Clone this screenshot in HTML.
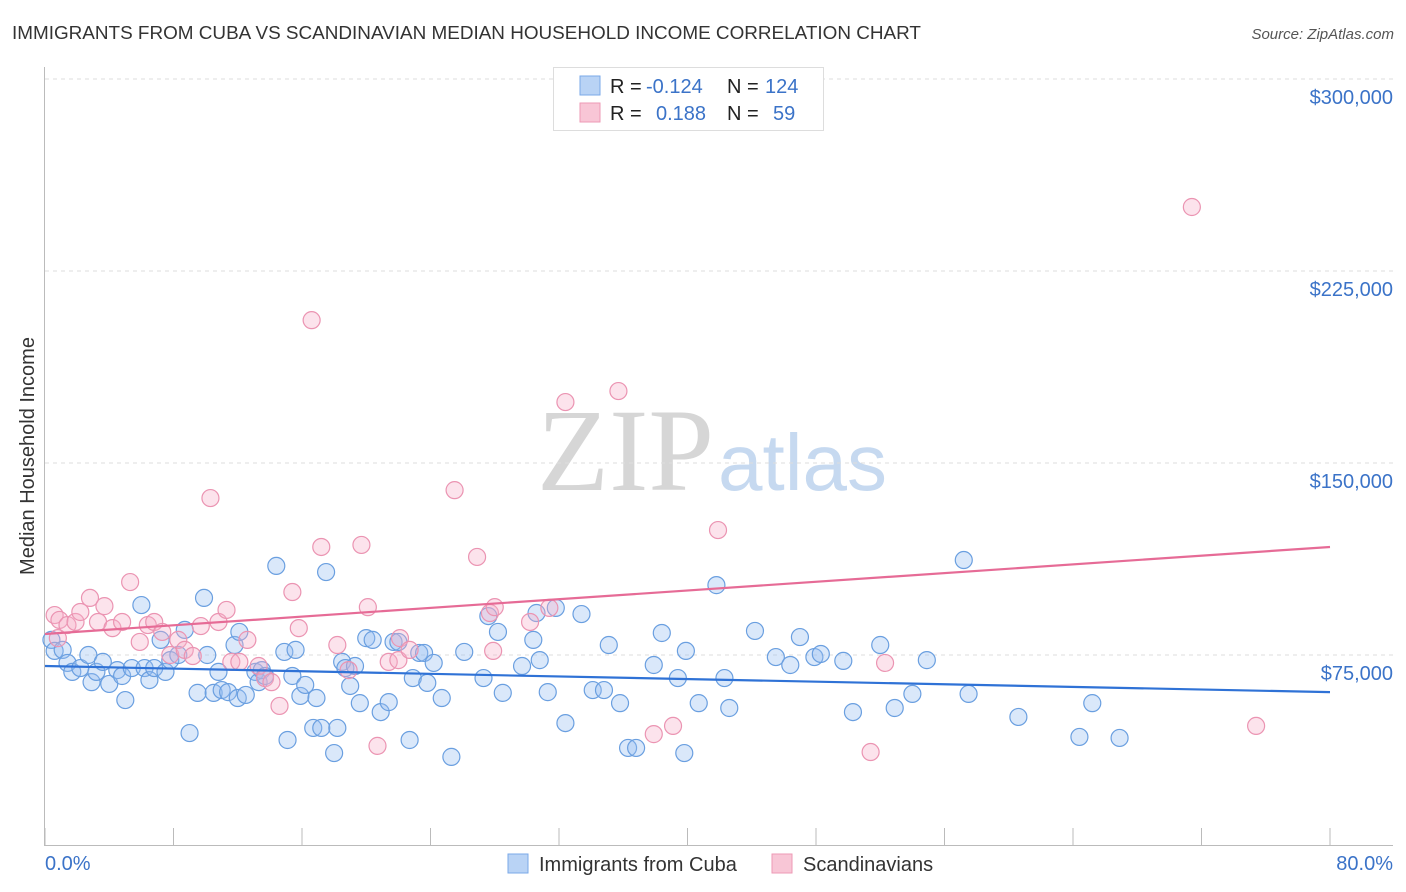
<!DOCTYPE html>
<html><head><meta charset="utf-8"><style>
body{margin:0;background:#fff;font-family:"Liberation Sans",sans-serif;}
svg{display:block}
</style></head><body>
<svg id="c" width="1406" height="892" xmlns="http://www.w3.org/2000/svg">
<text x="12" y="39" font-size="18.9" fill="#333">IMMIGRANTS FROM CUBA VS SCANDINAVIAN MEDIAN HOUSEHOLD INCOME CORRELATION CHART</text>
<text x="1394" y="39" font-size="15" fill="#555" font-style="italic" text-anchor="end">Source: ZipAtlas.com</text>
<text x="714" y="490" font-size="118" fill="#d6d6d6" font-family="Liberation Serif,serif" text-anchor="end">ZIP</text>
<text x="718" y="490" font-size="80" fill="#c6d9f0">atlas</text>
<g id="grid"></g>
<text transform="translate(34,456) rotate(-90)" font-size="20" fill="#333" text-anchor="middle">Median Household Income</text>
<text x="45" y="870" font-size="20" fill="#3b73c8">0.0%</text>
<text x="1393" y="870" font-size="20" fill="#3b73c8" text-anchor="end">80.0%</text>
<g id="pts"></g>
<g id="lines"></g>
<g>
<rect x="553.5" y="67.5" width="270" height="63" fill="#fff" stroke="#ddd"/>
<rect x="580" y="76" width="20" height="19" fill="#b9d3f5" stroke="#7aa8e8"/>
<rect x="580" y="103" width="20" height="19" fill="#f8c6d6" stroke="#ee9ab5"/>
<text x="610" y="93" font-size="20" fill="#222">R = <tspan x="646" fill="#3b73c8">-0.124</tspan><tspan x="727">N = </tspan><tspan x="765" fill="#3b73c8">124</tspan></text>
<text x="610" y="120" font-size="20" fill="#222">R = <tspan x="656" fill="#3b73c8">0.188</tspan><tspan x="727">N = </tspan><tspan x="773" fill="#3b73c8">59</tspan></text>
</g>
<g>
<rect x="508" y="854" width="20" height="19" fill="#b9d3f5" stroke="#7aa8e8"/>
<text x="539" y="871" font-size="20" fill="#333">Immigrants from Cuba</text>
<rect x="772" y="854" width="20" height="19" fill="#f8c6d6" stroke="#ee9ab5"/>
<text x="803" y="871" font-size="20" fill="#333">Scandinavians</text>
</g>
</svg>
<script>
const yTicks=[75000,150000,225000,300000];
const yTickLabels=["$75,000","$150,000","$225,000","$300,000"];
const xTicks=[0,8,16,24,32,40,48,56,64,72,80];
const cubaX=[0.4,0.6,1.1,1.4,1.7,2.2,2.7,2.9,3.2,3.6,4.0,4.5,4.8,5.0,5.4,6.0,6.2,6.5,6.8,7.2,7.5,7.8,8.3,8.7,9.0,9.5,9.9,10.1,10.5,10.8,11.0,11.4,11.8,12.0,12.1,12.5,13.1,13.3,13.5,13.7,14.4,14.9,15.1,15.4,15.6,15.9,16.2,16.7,16.9,17.2,17.5,18.0,18.2,18.5,18.7,19.0,19.3,19.6,20.0,20.4,20.9,21.4,21.7,22.0,22.7,22.9,23.3,23.6,23.8,24.2,24.7,25.3,26.1,27.3,27.6,28.2,28.5,29.7,30.4,30.6,30.8,31.3,31.8,32.4,33.4,34.1,34.8,35.1,35.8,36.3,36.8,37.9,38.4,39.4,39.8,39.9,40.7,41.8,42.3,42.6,44.2,45.5,46.4,47.0,47.9,48.3,49.7,50.3,52.0,52.9,54.0,54.9,57.2,57.5,60.6,64.4,65.2,66.9];
const cubaY=[80.9,76.6,77.0,71.9,68.4,69.9,75.0,64.4,68.4,72.3,63.7,69.1,66.8,57.4,69.9,94.5,69.9,65.2,69.9,80.9,68.4,73.0,75.0,84.8,44.5,60.2,97.3,75.0,60.2,68.4,61.3,60.5,78.9,58.2,84.0,59.4,68.4,64.4,69.1,66.8,109.8,76.2,41.8,66.8,77.0,59.0,63.3,46.5,58.2,46.5,107.4,36.7,46.5,72.3,69.9,62.9,70.7,56.2,81.6,80.9,52.7,56.6,80.1,80.1,41.8,66.0,75.8,75.8,64.1,71.9,58.2,35.2,76.2,66.0,90.2,84.0,60.2,70.7,80.9,91.4,73.0,60.5,93.4,48.4,91.0,61.3,61.3,78.9,56.2,38.7,38.7,71.1,83.6,66.0,36.7,76.6,56.2,102.3,66.0,54.3,84.4,74.2,71.1,82.0,74.2,75.4,72.7,52.7,78.9,54.3,59.8,73.0,112.1,59.8,50.8,43.0,56.2,42.6];
const scanX=[0.6,0.8,0.9,1.4,1.9,2.2,2.8,3.3,3.7,4.2,4.8,5.3,5.9,6.4,6.8,7.3,7.8,8.3,8.7,9.2,9.7,10.3,10.8,11.3,11.6,12.1,12.6,13.3,13.7,14.1,14.6,15.4,15.8,16.6,17.2,18.2,18.9,19.7,20.1,20.7,21.4,22.0,22.1,22.7,25.5,26.9,27.7,28.0,27.9,30.2,31.4,32.4,35.7,37.9,39.1,41.9,51.4,52.3,71.4,75.4];
const scanY=[90.6,81.6,88.7,86.7,87.9,91.8,97.3,87.9,94.1,85.5,87.9,103.5,80.1,86.7,87.9,84.0,75.0,80.9,77.0,74.6,86.3,136.3,87.9,92.6,72.3,72.3,80.9,70.7,66.0,64.4,55.1,99.6,85.5,205.8,117.2,78.9,69.1,118.0,93.7,39.5,72.3,73.0,81.6,77.0,139.4,113.3,91.4,93.7,76.6,87.9,93.4,173.8,178.1,44.1,47.3,123.8,37.1,71.9,250.0,47.3];
const cubaTrend=[70.7,60.5];
const scanTrend=[83.2,117.2];
const trendX=[0,80];

const NS="http://www.w3.org/2000/svg";
const xs=v=>45+v*(1285/80);
const ys=v=>847-v*192/75000;
function mk(t,a,p){const e=document.createElementNS(NS,t);for(const k in a)e.setAttribute(k,a[k]);p.appendChild(e);return e;}
const grid=document.getElementById('grid');
yTicks.forEach((t,i)=>{
  const l=mk('line',{x1:45,x2:1393,y1:ys(t),y2:ys(t),stroke:'#ddd','stroke-dasharray':'4,4'},grid);
  
  
  const tx=mk('text',{x:1393,y:ys(t)+25,'font-size':20,fill:'#3b73c8','text-anchor':'end'},grid);
  tx.textContent=yTickLabels[i];
  
  
});
const ax=mk('line',{x1:44.5,x2:44.5,y1:67,y2:846,stroke:'#bbb'},grid);


const bx=mk('line',{x1:45,x2:1393,y1:845.5,y2:845.5,stroke:'#bbb'},grid);


xTicks.forEach(t=>{
  const l=mk('line',{x1:xs(t),x2:xs(t),y1:828,y2:846,stroke:'#bbb'},grid);
  
  
});
const pts=document.getElementById('pts');
cubaX.forEach((x,i)=>{
  const c=mk('circle',{cx:xs(x),cy:ys(cubaY[i]*1000),r:8.5,fill:'rgba(150,190,240,0.35)',stroke:'#6a9fe0','stroke-width':1.2},pts);
  
  
});
scanX.forEach((x,i)=>{
  const c=mk('circle',{cx:xs(x),cy:ys(scanY[i]*1000),r:8.5,fill:'rgba(245,175,200,0.35)',stroke:'#eb94b2','stroke-width':1.2},pts);
  
  
});
const lines=document.getElementById('lines');
const l1=mk('line',{x1:xs(trendX[0]),x2:xs(trendX[1]),y1:ys(cubaTrend[0]*1000),y2:ys(cubaTrend[1]*1000),stroke:'#2f72d6','stroke-width':2.2},lines);


const l2=mk('line',{x1:xs(trendX[0]),x2:xs(trendX[1]),y1:ys(scanTrend[0]*1000),y2:ys(scanTrend[1]*1000),stroke:'#e66b96','stroke-width':2.2},lines);


</script>
</body></html>
